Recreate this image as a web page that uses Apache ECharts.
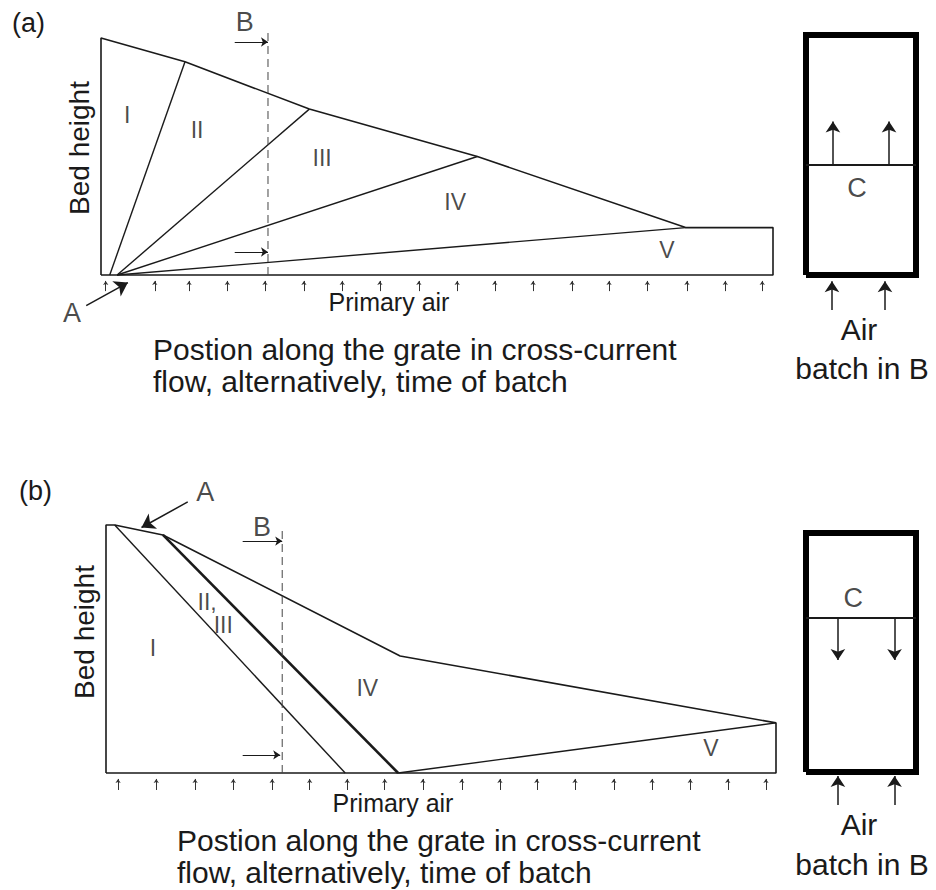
<!DOCTYPE html>
<html><head><meta charset="utf-8">
<script src="https://cdn.jsdelivr.net/npm/echarts@6/dist/echarts.min.js"></script>
<style>html,body{margin:0;padding:0;background:#fff}#c{width:936px;height:890px}</style>
</head><body><div id="c"></div>
<script>
const FONT = '"Liberation Sans", Arial, Helvetica, sans-serif';
const INK = '#1a1a1a';

// ---------- Panel (a): cross-current flow ----------
const aBedOutline = [[0,0],[0,100],[12.5,90],[31,70],[56,50],[87,20],[100,20],[100,0],[0,0]];
const aFronts = [
  [[1.3,0],[12.5,90]],
  [[2.4,0],[31,70]],
  [[2.4,0],[56,50]],
  [[2.4,0],[87,20]]
];
const aBatchLine = [[24.85,0],[24.85,103.4]];
const aZoneNames = ['I','II','III','IV','V'];
const aZonePos = [[3.9,67.5],[14.3,61.2],[32.9,49.4],[52.7,30.8],[84.2,10.5]];
const aAirX = [0.7,8.0,13.1,18.8,24.4,30.2,35.9,41.5,47.3,53.0,58.6,64.3,70.1,75.6,81.3,87.2,92.9,98.4];
const aAirY = [-6.8,-2.5];
const aBArrows = [[[19.9,98.3],[24.85,98.3]],[[19.9,9.7],[24.85,9.7]]];
const aMarkNames = ['B','A'];
const aMarkPos = [[21.4,106.8],[-4.3,-16]];
const aAArrow = [[[-2.2,-12.9],[4.0,-3.2]]];

// ---------- Panel (b): counter-current flow ----------
const bBedOutline = [[0,0],[0,100],[1.3,100],[8.5,96],[43.9,47.2],[100,20.2],[100,0],[0,0]];
const bFrontThin = [[[1.3,100],[35.7,0]],[[43.6,0],[100,20.2]]];
const bFrontThick = [[8.5,96],[43.6,0]];
const bBatchLine = [[26.3,0],[26.3,98]];
const bZoneNames = ['I','II,','III','IV','V'];
const bZonePos = [[7.0,50.4],[15.1,69],[17.5,59.7],[39,34.3],[90.3,10.1]];
const bAirX = [1.8,7.5,13.3,19.0,24.8,30.4,36.0,41.6,47.3,53.1,58.8,64.3,70.0,75.8,81.5,87.2,92.8,98.5];
const bAirY = [-6.85,-2.4];
const bBArrows = [[[20.4,93.5],[26.3,93.5]],[[20.4,7.3],[26.0,7.3]]];
const bMarkNames = ['B','A'];
const bMarkPos = [[23.3,99.2],[14.8,113.3]];
const bAArrow = [[[12.2,109.3],[5.3,99.0]]];

// ---------- Batch boxes ----------
const boxOutline = [[0,0],[0,100],[100,100],[100,0],[0,0]];
const boxADivider = [[0,45.8],[100,45.8]];
const boxAFlow = [[[24.5,45.8],[24.5,64]],[[75.5,45.8],[75.5,64]]];
const boxAAir = [[[23.6,-14.6],[23.6,-2.6]],[[71.8,-14.6],[71.8,-2.6]]];
const boxALabel = [[46.4,36.2]];
const boxBDivider = [[0,64.4],[100,64.4]];
const boxBFlow = [[[29,64.4],[29,46.9]],[[80.5,64.4],[80.5,46.9]]];
const boxBAir = [[[29,-13.8],[29,-1.7]],[[80.5,-13.8],[80.5,-1.7]]];
const boxBLabel = [[43,72.8]];

// ---------- helpers ----------
function poly(gi, data, w, extra) {
  return Object.assign({type:'line', xAxisIndex:gi, yAxisIndex:gi, data:data, symbol:'none',
    clip:false, silent:true, animation:false, lineStyle:{color:INK, width:w}}, extra || {});
}
function arrows(gi, segs, size, width, color) {
  return {type:'lines', coordinateSystem:'cartesian2d', xAxisIndex:gi, yAxisIndex:gi, clip:false,
    silent:true, animation:false, symbol:['none','arrow'], symbolSize:size,
    lineStyle:{color:color || INK, width:width, opacity:1, curveness:0},
    data: segs.map(s => ({coords:s}))};
}
function labels(gi, names, pos, size) {
  return {type:'scatter', xAxisIndex:gi, yAxisIndex:gi, clip:false, silent:true, animation:false,
    symbol:'circle', symbolSize:1, itemStyle:{color:'transparent'},
    data: names.map((n,i) => ({name:n, value:pos[i]})),
    label:{show:true, position:'inside', formatter:'{b}', color:INK, fontSize:size, fontFamily:FONT}};
}
function airSegs(xs, ys) { return xs.map(x => [[x, ys[0]],[x, ys[1]]]); }
function txt(x, y, text, size, extra) {
  return Object.assign({type:'text', x:x, y:y, silent:true,
    style:{text:text, fontSize:size, fontFamily:FONT, fill:INK, textAlign:'center', textVerticalAlign:'middle'}}, extra || {});
}
function leftTxt(x, y, text, size) {
  return {type:'text', x:x, y:y, silent:true,
    style:{text:text, fontSize:size, fontFamily:FONT, fill:INK, textAlign:'left', textVerticalAlign:'middle'}};
}

const grids = [
  {left:101, top:38, width:672, height:237},
  {left:106, top:525, width:670, height:248},
  {left:806, top:35, width:110, height:240},
  {left:806, top:533, width:110, height:239}
].map(g => Object.assign({containLabel:false, outerBoundsMode:'none', show:false}, g));

const axis = () => ({type:'value', min:0, max:100, show:false});

const series = [
  // panel a
  poly(0, aBedOutline, 1.6),
  ...aFronts.map(f => poly(0, f, 1.4)),
  poly(0, aBatchLine, 1, {lineStyle:{color:'#444', width:1, type:[8,5]}}),
  labels(0, aZoneNames, aZonePos, 23),
  labels(0, aMarkNames, aMarkPos, 27),
  arrows(0, airSegs(aAirX, aAirY), 4, 1, '#333'),
  arrows(0, aBArrows, 7, 1),
  arrows(0, aAArrow, 13, 1.5),
  // panel b
  poly(1, bBedOutline, 1.6),
  ...bFrontThin.map(f => poly(1, f, 1.4)),
  poly(1, bFrontThick, 2.6),
  poly(1, bBatchLine, 1, {lineStyle:{color:'#444', width:1, type:[8,5]}}),
  labels(1, bZoneNames, bZonePos, 23),
  labels(1, bMarkNames, bMarkPos, 27),
  arrows(1, airSegs(bAirX, bAirY), 4, 1, '#333'),
  arrows(1, bBArrows, 7, 1),
  arrows(1, bAArrow, 13, 1.5),
  // box a
  poly(2, boxOutline, 6, {lineStyle:{color:'#000', width:6, join:'miter'}}),
  poly(2, boxADivider, 2),
  arrows(2, boxAFlow, 11, 1.5),
  arrows(2, boxAAir, 11, 1.5),
  labels(2, ['C'], boxALabel, 27),
  // box b
  poly(3, boxOutline, 6, {lineStyle:{color:'#000', width:6, join:'miter'}}),
  poly(3, boxBDivider, 2),
  arrows(3, boxBFlow, 11, 1.5),
  arrows(3, boxBAir, 11, 1.5),
  labels(3, ['C'], boxBLabel, 27)
];

const graphic = [
  leftTxt(12, 23, '(a)', 27),
  leftTxt(19, 491, '(b)', 27),
  txt(79, 148, 'Bed height', 28, {rotation: Math.PI/2}),
  txt(84, 632, 'Bed height', 28, {rotation: Math.PI/2}),
  txt(389, 302, 'Primary air', 25),
  txt(393, 803, 'Primary air', 25),
  leftTxt(153, 349, 'Postion along the grate in cross-current', 30),
  leftTxt(153, 381, 'flow, alternatively, time of batch', 30),
  leftTxt(177, 840, 'Postion along the grate in cross-current', 30),
  leftTxt(177, 872, 'flow, alternatively, time of batch', 30),
  txt(859, 329, 'Air', 30),
  txt(862, 368, 'batch in B', 30),
  txt(859, 824, 'Air', 30),
  txt(862, 864, 'batch in B', 30)
];

const chart = echarts.init(document.getElementById('c'), null, {renderer:'svg'});
chart.setOption({
  animation:false,
  backgroundColor:'#ffffff',
  grid: grids,
  xAxis: grids.map((g,i) => Object.assign(axis(), {gridIndex:i})),
  yAxis: grids.map((g,i) => Object.assign(axis(), {gridIndex:i})),
  series: series,
  graphic: graphic
});
</script></body></html>
